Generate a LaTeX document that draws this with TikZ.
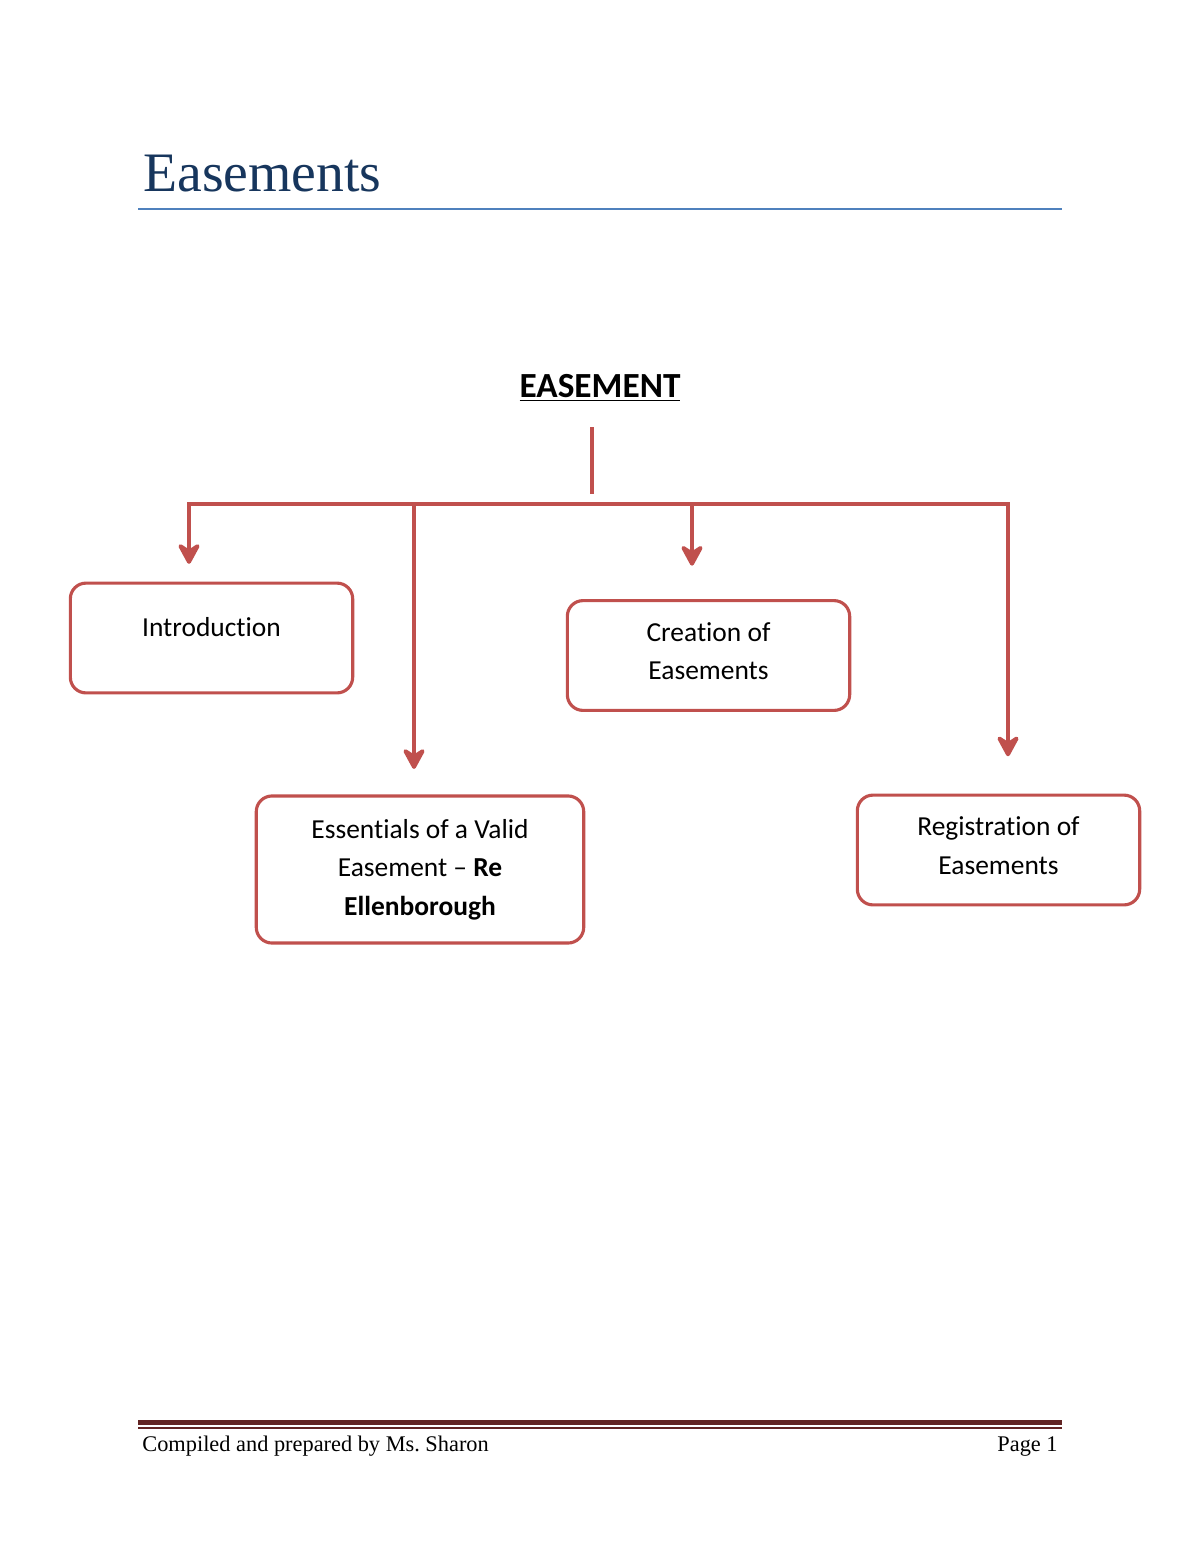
\documentclass[tikz,border=0pt]{standalone}
\usepackage{fontspec}
\setmainfont{Liberation Serif}
\newfontfamily\calibri[Ligatures={TeX,NoCommon}]{Carlito}
\usetikzlibrary{arrows.meta}
\definecolor{boxred}{HTML}{C0504D}
\definecolor{titleblue}{HTML}{17365D}
\definecolor{ruleblue}{HTML}{4F81BD}
\definecolor{footred}{HTML}{622423}
\frenchspacing

\begin{document}
\begin{tikzpicture}[x=0.51pt,y=-0.51pt,->,>={Stealth[length=13pt,width=14pt,inset=4.5pt,round]}]
		\tikzstyle{topicbox}=[rectangle,draw=boxred,line width=1.6pt,rounded corners=8pt,
			minimum width=144pt,minimum height=56pt,align=center,
			font=\calibri\fontsize{14}{19.6}\selectfont];
		\tikzstyle{branch}=[draw=boxred,line width=2pt];
		\useasboundingbox (0,0) rectangle (1200,1553);

		% page header
		\node[anchor=base west,inner sep=0pt,text=titleblue,font=\fontsize{28.4}{34}\selectfont](title)at(143,192){Easements};
		\draw[-,ruleblue,line width=1pt](138,209)--(1062,209);

		% tree
		\node[anchor=base,inner sep=0pt,font=\calibri\bfseries\fontsize{18}{22}\selectfont](root)at(600,397){\underline{EASEMENT}};
		\node[topicbox,text depth=11.2pt](intro)at(211.5,638){Introduction};
		\node[topicbox,text depth=4.7pt](creation)at(708.5,655.5){Creation of\\Easements};
		\node[topicbox,minimum width=167pt,minimum height=75pt,text depth=2.2pt](essentials)at(420,869.5){Essentials of a Valid\\Easement – \textbf{Re}\\\textbf{Ellenborough}};
		\node[topicbox,text depth=4.7pt](registration)at(998.5,850){Registration of\\Easements};

		\coordinate(stem)at(592,427);
		\coordinate(fork)at(592,494);
		\coordinate(b1)at(189,504);
		\coordinate(b2)at(414,504);
		\coordinate(b3)at(692,504);
		\coordinate(b4)at(1008,504);
		\draw[-,branch](stem)--(fork);
		\draw[branch,shorten >=9pt](b2)--(b1)--(b1|-intro.north);
		\draw[branch,shorten >=13pt](b2)--(b2|-essentials.north);
		\draw[branch,shorten >=17pt](b3)--(b3|-creation.north);
		\draw[branch,shorten >=19pt](b2)--(b4)--(b4|-registration.north);

		% page footer
		\draw[-,footred,line width=2.6pt](138,1422.5)--(1062,1422.5);
		\draw[-,footred,line width=0.7pt](138,1428)--(1062,1428);
		\node[anchor=base west,inner sep=0pt,font=\fontsize{11.4}{13}\selectfont](credit)at(142,1451){Compiled and prepared by Ms. Sharon};
		\node[anchor=base east,inner sep=0pt,font=\fontsize{11.4}{13}\selectfont](pageno)at(1058,1451){Page 1};
	\end{tikzpicture}
\end{document}
